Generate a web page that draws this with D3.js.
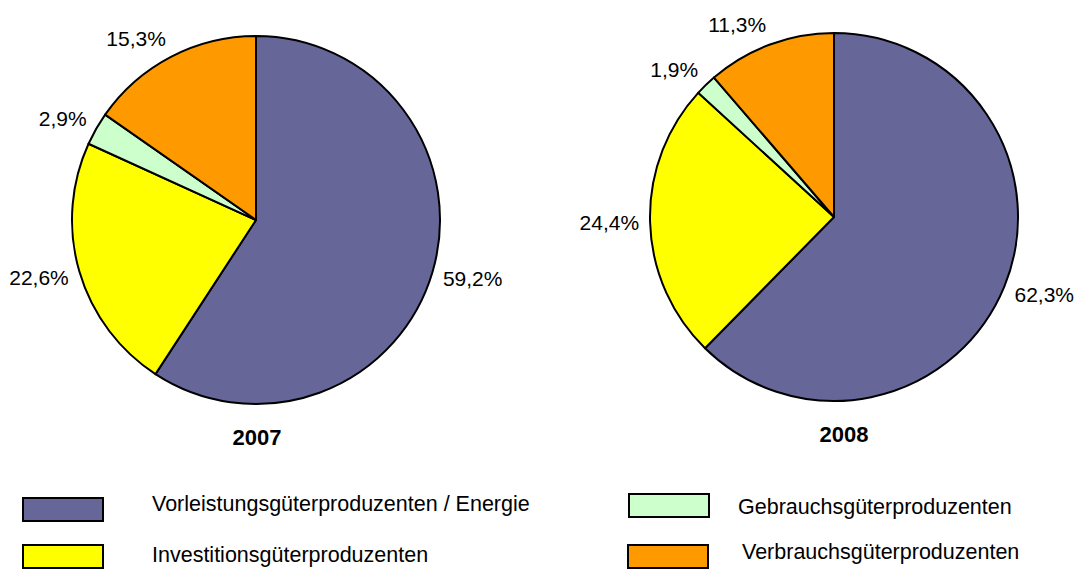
<!DOCTYPE html>
<html>
<head>
<meta charset="utf-8">
<script src="https://cdn.jsdelivr.net/npm/d3@7"></script>
<style>
  html, body { margin: 0; padding: 0; background: #ffffff; }
  svg { display: block; font-family: "Liberation Sans", Arial, sans-serif; }
</style>
</head>
<body>
<svg id="chart" width="1077" height="569"></svg>
<script>
// ---- data ----
const categories = [
  "Vorleistungsgüterproduzenten / Energie",
  "Investitionsgüterproduzenten",
  "Gebrauchsgüterproduzenten",
  "Verbrauchsgüterproduzenten"
];
const years = ["2007", "2008"];
const values2007 = [59.2, 22.6, 2.9, 15.3];
const values2008 = [62.3, 24.4, 1.9, 11.3];
const colors = ["#666699", "#FFFF00", "#CCFFCC", "#FF9900"];

// ---- layout ----
const svg = d3.select("#chart");
const radius = 184;
const pies = [
  { year: years[0], values: values2007, cx: 256, cy: 220, yearDx: 1 },
  { year: years[1], values: values2008, cx: 834, cy: 217, yearDx: 10 }
];
const fmt = v => d3.format(".1f")(v).replace(".", ",") + "%";

const pieGen = d3.pie().sort(null).value(d => d);
const arcGen = d3.arc().innerRadius(0).outerRadius(radius);

pies.forEach(p => {
  const g = svg.append("g").attr("transform", `translate(${p.cx},${p.cy})`);
  const arcs = pieGen(p.values);
  g.selectAll("path.slice")
    .data(arcs)
    .join("path")
    .attr("class", "slice")
    .attr("d", arcGen)
    .attr("fill", (d, i) => colors[i])
    .attr("stroke", "#000")
    .attr("stroke-width", 2)
    .attr("stroke-linejoin", "round");

  const labelR = 195;
  g.selectAll("text.lbl")
    .data(arcs)
    .join("text")
    .attr("class", "lbl")
    .each(function(d) {
      const a = (d.startAngle + d.endAngle) / 2;
      const s = Math.sin(a), c = Math.cos(a);
      const x = labelR * s;
      const y = -labelR * c - c * 10;
      d3.select(this)
        .attr("x", x)
        .attr("y", y)
        .attr("dy", "0.35em")
        .attr("text-anchor", s >= 0 ? "start" : "end");
    })
    .attr("font-size", 21)
    .attr("fill", "#000")
    .text(d => fmt(d.data));

  g.append("text")
    .attr("x", p.yearDx)
    .attr("y", radius + 41)
    .attr("text-anchor", "middle")
    .attr("font-size", 22)
    .attr("font-weight", "bold")
    .attr("fill", "#000")
    .text(p.year);
});

// ---- legend ----
const legendItems = [
  { i: 0, rx: 23, ry: 498, tx: 152, ty: 511 },
  { i: 1, rx: 23, ry: 545, tx: 152, ty: 562 },
  { i: 2, rx: 629, ry: 494, tx: 738, ty: 514 },
  { i: 3, rx: 628, ry: 545, tx: 742, ty: 559 }
];
const lg = svg.append("g");
legendItems.forEach(it => {
  lg.append("rect")
    .attr("x", it.rx).attr("y", it.ry)
    .attr("width", 80).attr("height", 23)
    .attr("fill", colors[it.i])
    .attr("stroke", "#000")
    .attr("stroke-width", 2);
  lg.append("text")
    .attr("x", it.tx).attr("y", it.ty)
    .attr("font-size", 21.5)
    .attr("fill", "#000")
    .text(categories[it.i]);
});
</script>
</body>
</html>
